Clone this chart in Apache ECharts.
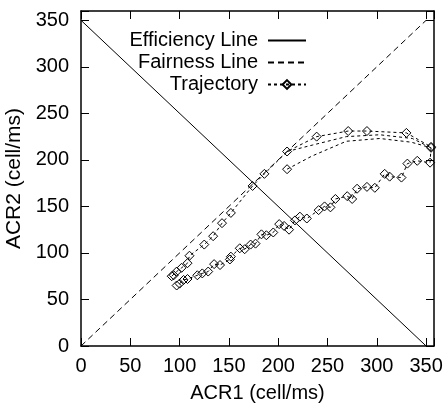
<!DOCTYPE html>
<html>
<head>
<meta charset="utf-8">
<script src="https://cdn.jsdelivr.net/npm/echarts@6/dist/echarts.min.js"></script>
<style>
  html, body { margin: 0; padding: 0; background: #fff; }
  #chart { width: 444px; height: 405px; }
</style>
</head>
<body>
<div id="chart"></div>
<script>
// Axis ranges and tick step (cell/ms)
const xMax = 358;
const yMax = 360;
const tickStep = 50;

// Reference lines
const efficiencyLine = [[0, 350], [350, 0]];
const fairnessLine = [[0, 0], [350, 350]];

// Trajectory: upward run close to the fairness line
const trajUpper = [
  [92, 75], [94, 76], [97, 80], [102, 84], [108, 89], [110, 97],
  [125, 109], [134, 118], [143, 132], [152, 143], [174, 172], [186, 185],
  [209, 209], [239, 225], [271, 231], [290, 231], [330, 229], [355, 214]
];

// Trajectory: sawtooth run below the fairness line (from upper right downwards)
const trajLower = [
  [355, 213], [354, 197], [341, 199], [331, 196], [325, 181], [313, 182],
  [308, 185], [298, 170], [290, 171], [280, 169], [275, 158], [270, 161],
  [258, 158], [253, 149], [247, 150], [241, 146], [229, 137], [222, 139],
  [217, 135], [211, 125], [206, 129], [201, 131], [195, 122], [188, 119],
  [183, 120], [177, 110], [172, 109], [166, 104], [161, 105], [152, 96],
  [151, 93], [141, 87], [135, 88], [129, 80], [123, 78], [118, 76],
  [108, 72], [104, 71], [100, 67], [97, 65]
];

// Trajectory: two unmarked return curves meeting at the right edge
const trajCurveB = [[209, 209], [235, 216], [269, 225], [303, 227], [336, 223], [355, 213]];
const trajCurveC = [[209, 190], [234, 204], [269, 220], [303, 223], [335, 219], [355, 213]];
// which points of each curve carry a diamond marker
const curveBMarked = [false, false, false, false, false, false];
const curveCMarked = [true, false, false, false, false, false];

const FONT = 'Liberation Sans, Arial, sans-serif';

function withMarkers(points, marked) {
  return points.map((p, i) => marked[i] ? { value: p } : { value: p, symbol: 'none' });
}

const trajStyle = {
  type: 'line',
  name: 'Trajectory',
  symbol: 'diamond',
  symbolSize: 9,
  showAllSymbol: true,
  itemStyle: { color: 'rgba(255,255,255,0)', borderColor: '#000', borderWidth: 1 },
  lineStyle: { color: '#000', width: 1, type: [3, 3] },
  emphasis: { disabled: true },
  animation: false,
  z: 3
};

// plain line series: no markers, and an invisible legend marker
const hiddenMarker = { color: 'rgba(0,0,0,0)', borderColor: 'rgba(0,0,0,0)', borderWidth: 0 };

function tickFormatter(v) {
  return v % tickStep === 0 ? String(v) : '';
}

const axisCommon = {
  type: 'value',
  interval: tickStep,
  min: 0,
  splitLine: { show: false },
  axisLine: { show: true, onZero: false, lineStyle: { color: '#000', width: 1.5 } },
  axisTick: { show: true, inside: true, length: 8, lineStyle: { color: '#000', width: 1 } }
};

const chart = echarts.init(document.getElementById('chart'), null, { renderer: 'canvas' });
chart.setOption({
  backgroundColor: '#fff',
  animation: false,
  grid: { left: 81, right: 10, top: 11, bottom: 59, containLabel: false, outerBoundsMode: 'none' },
  legend: {
    orient: 'vertical',
    align: 'right',
    right: 137,
    top: 30.5,
    padding: 0,
    itemGap: 2,
    itemWidth: 38,
    itemHeight: 11,
    selectedMode: false,
    textStyle: { fontFamily: FONT, fontSize: 20, color: '#000', lineHeight: 20, padding: [0, 5, 0, 0] },
    data: ['Efficiency Line', 'Fairness Line', 'Trajectory']
  },
  xAxis: [
    Object.assign({}, axisCommon, {
      max: xMax,
      position: 'bottom',
      name: 'ACR1 (cell/ms)',
      nameLocation: 'middle',
      nameGap: 37,
      nameTextStyle: { fontFamily: FONT, fontSize: 20, color: '#000' },
      axisLabel: { fontFamily: FONT, fontSize: 20, color: '#000', margin: 10, formatter: tickFormatter }
    }),
    Object.assign({}, axisCommon, {
      max: xMax,
      position: 'top',
      axisLabel: { show: false }
    })
  ],
  yAxis: [
    Object.assign({}, axisCommon, {
      max: yMax,
      position: 'left',
      name: 'ACR2 (cell/ms)',
      nameLocation: 'middle',
      nameGap: 52,
      nameTextStyle: { fontFamily: FONT, fontSize: 21, color: '#000' },
      axisLabel: { fontFamily: FONT, fontSize: 20, color: '#000', margin: 12, formatter: tickFormatter }
    }),
    Object.assign({}, axisCommon, {
      max: yMax,
      position: 'right',
      axisLabel: { show: false }
    })
  ],
  series: [
    {
      type: 'line', name: 'Efficiency Line', data: efficiencyLine,
      symbol: 'none', lineStyle: { color: '#000', width: 1, type: 'solid' },
      itemStyle: hiddenMarker, emphasis: { disabled: true }, z: 2
    },
    {
      type: 'line', name: 'Fairness Line', data: fairnessLine,
      symbol: 'none', lineStyle: { color: '#000', width: 1, type: [6, 4] },
      itemStyle: hiddenMarker, emphasis: { disabled: true }, z: 2
    },
    Object.assign({}, trajStyle, { data: trajUpper }),
    Object.assign({}, trajStyle, { data: trajLower }),
    Object.assign({}, trajStyle, { data: withMarkers(trajCurveB, curveBMarked) }),
    Object.assign({}, trajStyle, { data: withMarkers(trajCurveC, curveCMarked) })
  ]
});
</script>
</body>
</html>
